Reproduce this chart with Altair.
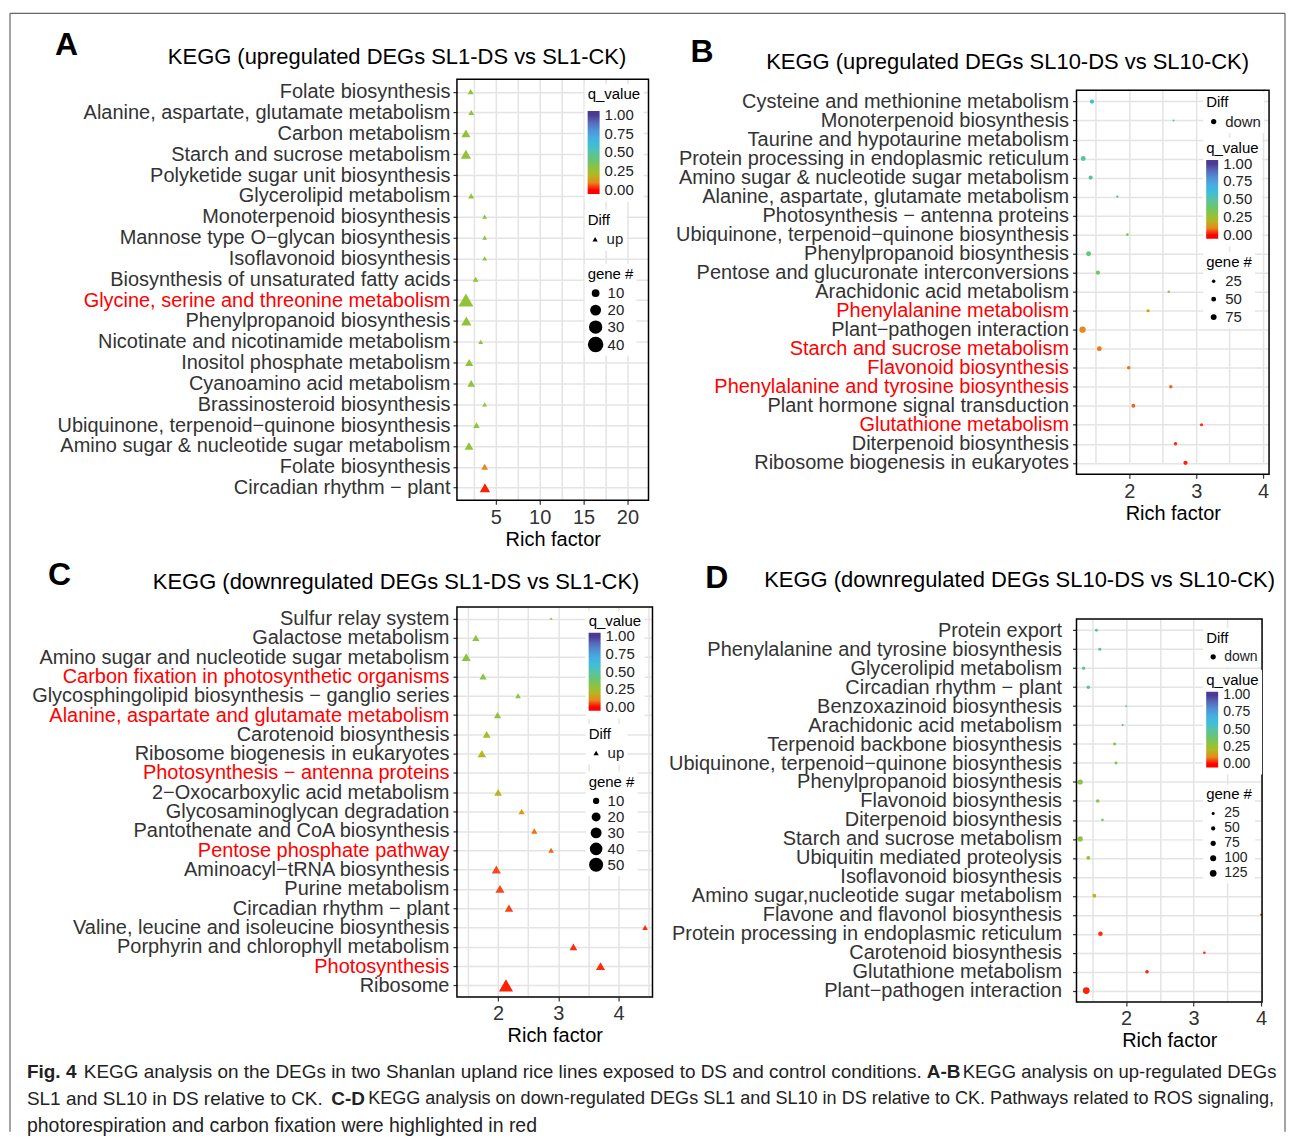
import json
import altair as alt
import pandas as pd

FONT = "Liberation Sans"
INK = "#333333"
HIGHLIGHT = "#ff0000"
GRID = "#e4e4e4"

PANEL_LETTERS = ["A", "B", "C", "D"]
PANEL_TITLES = [
    "KEGG (upregulated DEGs SL1-DS vs SL1-CK)",
    "KEGG (upregulated DEGs SL10-DS vs SL10-CK)",
    "KEGG (downregulated DEGs SL1-DS vs SL1-CK)",
    "KEGG (downregulated DEGs SL10-DS vs SL10-CK)",
]

# ---------------- Panel A (up, SL1) ----------------
a_terms = [
    "Folate biosynthesis", "Alanine, aspartate, glutamate metabolism", "Carbon metabolism",
    "Starch and sucrose metabolism", "Polyketide sugar unit biosynthesis", "Glycerolipid metabolism",
    "Monoterpenoid biosynthesis", "Mannose type O\u2212glycan biosynthesis", "Isoflavonoid biosynthesis",
    "Biosynthesis of unsaturated fatty acids", "Glycine, serine and threonine metabolism",
    "Phenylpropanoid biosynthesis", "Nicotinate and nicotinamide metabolism",
    "Inositol phosphate metabolism", "Cyanoamino acid metabolism", "Brassinosteroid biosynthesis",
    "Ubiquinone, terpenoid\u2212quinone biosynthesis", "Amino sugar & nucleotide sugar metabolism",
    "Folate biosynthesis", "Circadian rhythm \u2212 plant",
]
a_rich = [2.14, 2.21, 1.6, 1.6, None, 2.2, 3.74, 3.74, 3.74, 2.71, 1.6, 1.65, 3.29, 1.98, 2.2, 3.74, 2.8, 1.95, 3.74, 3.77]
a_q = [0.28, 0.28, 0.27, 0.27, None, 0.28, 0.3, 0.3, 0.3, 0.28, 0.27, 0.27, 0.29, 0.28, 0.28, 0.3, 0.28, 0.27, 0.1, 0.01]
a_gene = [6, 6, 14, 18, None, 6, 4, 4, 4, 6, 38, 18, 4, 11, 10, 4, 7, 13, 8, 18]
a_red = [10]

# ---------------- Panel B (down, SL10) ----------------
b_terms = [
    "Cysteine and methionine metabolism", "Monoterpenoid biosynthesis", "Taurine and hypotaurine metabolism",
    "Protein processing in endoplasmic reticulum", "Amino sugar & nucleotide sugar metabolism",
    "Alanine, aspartate, glutamate metabolism", "Photosynthesis \u2212 antenna proteins",
    "Ubiquinone, terpenoid\u2212quinone biosynthesis", "Phenylpropanoid biosynthesis",
    "Pentose and glucuronate interconversions", "Arachidonic acid metabolism", "Phenylalanine metabolism",
    "Plant\u2212pathogen interaction", "Starch and sucrose metabolism", "Flavonoid biosynthesis",
    "Phenylalanine and tyrosine biosynthesis", "Plant hormone signal transduction", "Glutathione metabolism",
    "Diterpenoid biosynthesis", "Ribosome biogenesis in eukaryotes",
]
b_rich = [1.44, 2.66, 3.96, 1.31, 1.42, 1.82, None, 1.97, 1.39, 1.53, 2.59, 2.28, 1.30, 1.55, 1.99, 2.62, 2.06, 3.08, 2.69, 2.84]
b_q = [0.56, 0.5, 0.5, 0.5, 0.5, 0.47, None, 0.35, 0.42, 0.37, 0.27, 0.13, 0.1, 0.09, 0.08, 0.07, 0.07, 0.02, 0.02, 0.01]
b_gene = [38, 9, 6, 52, 38, 12, None, 15, 52, 38, 12, 21, 85, 52, 26, 26, 31, 21, 26, 38]
b_red = [11, 13, 14, 15, 17]

# ---------------- Panel C (up, SL1) ----------------
c_terms = [
    "Sulfur relay system", "Galactose metabolism", "Amino sugar and nucleotide sugar metabolism",
    "Carbon fixation in photosynthetic organisms", "Glycosphingolipid biosynthesis \u2212 ganglio series",
    "Alanine, aspartate and glutamate metabolism", "Carotenoid biosynthesis",
    "Ribosome biogenesis in eukaryotes", "Photosynthesis \u2212 antenna proteins",
    "2\u2212Oxocarboxylic acid metabolism", "Glycosaminoglycan degradation",
    "Pantothenate and CoA biosynthesis", "Pentose phosphate pathway", "Aminoacyl\u2212tRNA biosynthesis",
    "Purine metabolism", "Circadian rhythm \u2212 plant", "Valine, leucine and isoleucine biosynthesis",
    "Porphyrin and chlorophyll metabolism", "Photosynthesis", "Ribosome",
]
c_rich = [2.88, 1.63, 1.47, 1.75, 2.33, 1.99, 1.81, 1.73, 3.57, 2.0, 2.39, 2.60, 2.88, 1.97, 2.03, 2.18, 4.44, 3.25, 3.70, 2.13]
c_q = [0.32, 0.3, 0.3, 0.3, 0.3, 0.3, 0.22, 0.2, 0.2, 0.19, 0.12, 0.08, 0.07, 0.05, 0.05, 0.04, 0.02, 0.02, 0.02, 0.01]
c_gene = [2, 13, 21, 13, 8, 13, 15, 18, 3, 15, 10, 10, 8, 21, 21, 18, 8, 15, 21, 50]
c_red = [3, 5, 8, 12, 18]

# ---------------- Panel D (down, SL10) ----------------
d_terms = [
    "Protein export", "Phenylalanine and tyrosine biosynthesis", "Glycerolipid metabolism",
    "Circadian rhythm \u2212 plant", "Benzoxazinoid biosynthesis", "Arachidonic acid metabolism",
    "Terpenoid backbone biosynthesis", "Ubiquinone, terpenoid\u2212quinone biosynthesis",
    "Phenylpropanoid biosynthesis", "Flavonoid biosynthesis", "Diterpenoid biosynthesis",
    "Starch and sucrose metabolism", "Ubiquitin mediated proteolysis", "Isoflavonoid biosynthesis",
    "Amino sugar,nucleotide sugar metabolism", "Flavone and flavonol biosynthesis",
    "Protein processing in endoplasmic reticulum", "Carotenoid biosynthesis", "Glutathione metabolism",
    "Plant\u2212pathogen interaction",
]
d_rich = [1.56, 1.61, 1.37, 1.44, 2.0, 1.95, 1.83, 1.85, 1.32, 1.58, 1.65, 1.32, 1.44, None, 1.53, 4.0, 1.62, 3.16, 2.31, 1.41]
d_q = [0.5, 0.5, 0.5, 0.5, 0.5, 0.5, 0.33, 0.33, 0.3, 0.3, 0.3, 0.28, 0.27, None, 0.18, 0.04, 0.02, 0.02, 0.01, 0.01]
d_gene = [25, 25, 31, 35, 9, 14, 25, 25, 76, 35, 19, 76, 42, None, 42, 14, 59, 19, 35, 125]
d_red = []

Q_TICKS = [0, 0.25, 0.5, 0.75, 1.0]
a_gene_ticks = [10, 20, 30, 40]
b_gene_ticks = [25, 50, 75]
c_gene_ticks = [10, 20, 30, 40, 50]
d_gene_ticks = [25, 50, 75, 100, 125]

CAPTION_TEXT = [
    "Fig. 4",
    "KEGG analysis on the DEGs in two Shanlan upland rice lines exposed to DS and control conditions.",
    "A-B",
    "KEGG analysis on up-regulated DEGs",
    "SL1 and SL10 in DS relative to CK.",
    "C-D",
    "KEGG analysis on down-regulated DEGs SL1 and SL10 in DS relative to CK. Pathways related to ROS signaling,",
    "photorespiration and carbon fixation were highlighted in red",
]

# ---------------- styles ----------------
Q_STOPS = [-0.05, 0, 0.05, 0.1, 0.17, 0.25, 0.35, 0.5, 0.62, 0.75, 0.88, 1.0, 1.05]
Q_COLORS = ["#ff0000", "#ff0000", "#f04b1e", "#e8871c", "#c2b022", "#98c22c", "#7fc455",
            "#58c2a6", "#44bde0", "#4ea3de", "#5a72c2", "#4b3992", "#4b3992"]

CAP_BOLD = [True, False, True, False, False, True, False, False]
CAP_X = [27, 84, 929, 965, 27, 332, 369, 27]
CAP_LINE = [0, 0, 0, 0, 1, 1, 1, 2]
CAP_SIZE = [19, 19, 19, 18.5, 19, 19, 18.1, 19.5]
CAP_ORIGIN_X = 458
CAP_ORIGIN_Y = 1060
FRAME = dict(left=10, top=9, right=1288, bottom=1130)


def text_layer(s, x, y, size, weight="normal", align="left", baseline="alphabetic", color="black"):
    return alt.Chart(pd.DataFrame({"t": [s]})).mark_text(
        font=FONT, fontSize=size, fontWeight=weight, align=align, baseline=baseline, color=color
    ).encode(x=alt.value(x), y=alt.value(y), text="t:N")


def legend_common(**kw):
    base = dict(orient="none", fillColor="white", padding=3, titleFontSize=15, labelFontSize=15,
                titleFont=FONT, labelFont=FONT, titleFontWeight="normal", titleColor="black",
                labelColor="#222222", titlePadding=4, labelOverlap=False)
    base.update(kw)
    return alt.Legend(**base)


def build_panel(k, terms, rich, q, gene, red_idx, diff, shape, gene_ticks, st):
    n = len(terms)
    off = st.get("off", 0)
    w, h = st["w"], st["h"]
    df = pd.DataFrame({"idx": list(range(n)), "rich": rich, "q": q, "gene": gene, "diff": [diff] * n})
    names = json.dumps(terms, ensure_ascii=False)
    reds = json.dumps(red_idx)
    major = st["major"]
    x_axis = alt.Axis(
        values=st["xvals"], format="~g", labelExpr=f"{major} ? datum.label : ''",
        tickColor={"condition": {"test": major, "value": INK}, "value": "transparent"},
        tickSize=4, tickWidth=1.2, labelPadding=3, labelFontSize=20, labelFont=FONT, labelColor=INK,
        labelFlush=False, labelOverlap=False, domain=False, grid=True, gridColor=GRID, gridWidth=1.5,
        title="Rich factor", titleFontSize=20, titleFont=FONT, titleFontWeight="normal",
        titleColor="black", titlePadding=2,
    )
    y_axis = alt.Axis(
        labelExpr=f"{names}[datum.value]",
        labelColor={"condition": {"test": f"indexof({reds}, datum.value) >= 0", "value": HIGHLIGHT},
                    "value": INK},
        labelFontSize=20, labelFont=FONT, labelLimit=900, labelOverlap=False, labelPadding=st["lpad"],
        tickSize=4, tickColor=INK, tickWidth=1.2, domain=False, grid=True, gridColor=GRID, gridWidth=1.5,
    )
    lx = st["lx"]
    lfs = st.get("lfs", 15)
    pts = alt.Chart(df).mark_point(filled=True, opacity=1, strokeWidth=0).encode(
        x=alt.X("rich:Q", scale=alt.Scale(domain=st["xdom"], nice=False, zero=False), axis=x_axis),
        y=alt.Y("idx:O", scale=alt.Scale(type="point", domain=list(range(n)), padding=0.6,
                                         range=[off, h + off]),
                axis=y_axis, title=None),
        color=alt.Color("q:Q", scale=alt.Scale(domain=Q_STOPS, range=Q_COLORS, clamp=True),
                        legend=legend_common(title="q_value", legendX=lx, legendY=st["ly_q"] + off,
                                             direction="vertical", gradientLength=st["glen"],
                                             gradientThickness=12, gradientStrokeWidth=0,
                                             values=Q_TICKS, format=".2f", labelOffset=5,
                                             titlePadding=st.get("qpad", 4), labelFontSize=lfs)),
        size=alt.Size("gene:Q", scale=alt.Scale(domain=[0, st["gmax"]], range=[0, st["smax"]]),
                      legend=legend_common(title="gene #", legendX=lx, legendY=st["ly_g"] + off,
                                           values=gene_ticks, symbolType="circle",
                                           symbolFillColor="black", symbolStrokeWidth=0,
                                           rowPadding=st["rowpad"], labelFontSize=lfs)),
        shape=alt.Shape("diff:N", scale=alt.Scale(domain=[diff], range=[shape]),
                        legend=legend_common(title="Diff", legendX=lx, legendY=st["ly_d"] + off,
                                             symbolSize=28, symbolFillColor="black",
                                             symbolStrokeWidth=0, labelFontSize=lfs)),
    )
    layers = []
    if off > 0:
        layers.append(alt.Chart(pd.DataFrame({"t": [0]})).mark_rect(color="white").encode(
            x=alt.value(-1), x2=alt.value(w + 1), y=alt.value(-1), y2=alt.value(off - 0.8)))
    layers.append(pts)
    layers.append(alt.Chart(pd.DataFrame({"t": [0]})).mark_rect(
        fillOpacity=0, stroke="black", strokeWidth=1.5).encode(
        x=alt.value(0), x2=alt.value(w), y=alt.value(off), y2=alt.value(h + off)))
    layers.append(text_layer(PANEL_LETTERS[k], st["letter"][0], st["letter"][1], 32, "bold", "left", "top"))
    layers.append(text_layer(PANEL_TITLES[k], st["title"][0], st["title"][1], 22, "normal", "center",
                             "alphabetic"))
    return alt.layer(*layers).properties(width=w, height=h + off,
                                         view=alt.ViewBackground(stroke="transparent"))


ST_A = dict(w=192, h=422, xdom=[0.58, 22.4], xvals=[2.5, 5, 7.5, 10, 12.5, 15, 17.5, 20],
            major="datum.value % 5 == 0", gmax=40, smax=240, lpad=3, rowpad=1,
            lx=128, ly_q=5, ly_d=131, ly_g=185, glen=83, qpad=9,
            letter=(-403, -49), title=(-60, -15))
ST_B = dict(w=193, h=385, off=11, xdom=[1.209, 4.09], xvals=[1.5, 2, 2.5, 3, 3.5, 4],
            major="datum.value % 1 == 0", gmax=85, smax=40, lpad=4, rowpad=2,
            lx=127, ly_q=48, ly_d=2, ly_g=162, glen=79,
            letter=(-387, -42), title=(-69, -10))
ST_C = dict(w=196, h=391, xdom=[1.316, 4.563], xvals=[1.5, 2, 2.5, 3, 3.5, 4, 4.5],
            major="datum.value % 1 == 0", gmax=50, smax=200, lpad=4, rowpad=0,
            lx=129, ly_q=4, ly_d=117, ly_g=165, glen=78,
            letter=(-410, -47), title=(-61, -18))
ST_D = dict(w=186, h=384, xdom=[1.265, 4.015], xvals=[1.5, 2, 2.5, 3, 3.5, 4],
            major="datum.value % 1 == 0", gmax=125, smax=45, lpad=11, rowpad=1, lfs=14,
            lx=127, ly_q=51, ly_d=9, ly_g=166, glen=76,
            letter=(-372, -56), title=(-57, -32))

pA = build_panel(0, a_terms, a_rich, a_q, a_gene, a_red, "up", "triangle-up", a_gene_ticks, ST_A)
pB = build_panel(1, b_terms, b_rich, b_q, b_gene, b_red, "down", "circle", b_gene_ticks, ST_B)
pC = build_panel(2, c_terms, c_rich, c_q, c_gene, c_red, "up", "triangle-up", c_gene_ticks, ST_C)
pD = build_panel(3, d_terms, d_rich, d_q, d_gene, d_red, "down", "circle", d_gene_ticks, ST_D)

IND = dict(color="independent", size="independent", shape="independent")
colA = alt.vconcat(pA, pC, spacing=8).resolve_scale(**IND)
colB = alt.vconcat(pB, pD, spacing=37).resolve_scale(**IND)
panels = alt.hconcat(colA, colB, spacing=13).resolve_scale(**IND)

cap_layers = []
for txt, bold, xa, line, fs in zip(CAPTION_TEXT, CAP_BOLD, CAP_X, CAP_LINE, CAP_SIZE):
    cap_layers.append(text_layer(txt, xa - CAP_ORIGIN_X, 10 + 27 * line, fs,
                                 "bold" if bold else "normal", "left", "middle", "#222222"))

# thin outer frame of the figure (left, top and right edges)
fl, ft = FRAME["left"] - CAP_ORIGIN_X, FRAME["top"] - CAP_ORIGIN_Y
fr, fb = FRAME["right"] - CAP_ORIGIN_X, FRAME["bottom"] - CAP_ORIGIN_Y
one = pd.DataFrame({"t": [0]})
rule_style = dict(color="#666666", strokeWidth=1.2)
cap_layers.append(alt.Chart(one).mark_rule(**rule_style).encode(
    x=alt.value(fl), y=alt.value(ft), y2=alt.value(fb)))
cap_layers.append(alt.Chart(one).mark_rule(**rule_style).encode(
    x=alt.value(fr), y=alt.value(ft), y2=alt.value(fb)))
cap_layers.append(alt.Chart(one).mark_rule(**rule_style).encode(
    x=alt.value(fl), x2=alt.value(fr), y=alt.value(ft)))

caption = alt.layer(*cap_layers).properties(width=1, height=70,
                                            view=alt.ViewBackground(stroke="transparent"))

chart = (
    alt.vconcat(panels, caption, spacing=8 + ft)
    .resolve_scale(**IND)
    .properties(padding={"left": 0, "top": 2, "right": 0, "bottom": 2})
    .configure(font=FONT, background="white")
    .configure_view(stroke="transparent")
)

chart.save("out.html", embed_options={"renderer": "svg", "actions": False})
